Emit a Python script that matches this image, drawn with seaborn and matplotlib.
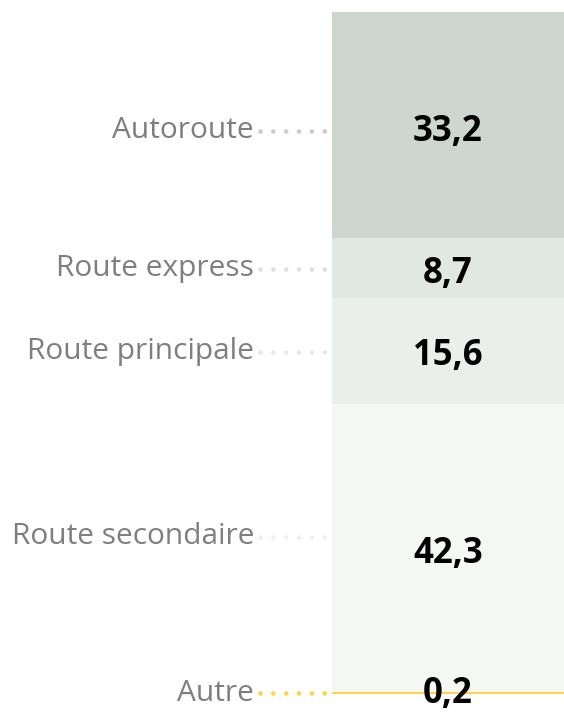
import matplotlib
matplotlib.use("Agg")
import matplotlib.pyplot as plt
import seaborn as sns
import numpy as np

categories = ["Autoroute", "Route express", "Route principale", "Route secondaire", "Autre"]
values = [33.2, 8.7, 15.6, 42.3, 0.2]
value_labels = ["33,2", "8,7", "15,6", "42,3", "0,2"]
colors = ["#cdd6cf", "#e1e8e4", "#eaefec", "#f5f7f5", "#ffd24f"]
dot_colors = ["#c6cfc9", "#dce3df", "#e6ebe8", "#eef1ee", "#ffd24f"]

sns.set_theme(style="white")
plt.rcParams["font.family"] = ["Open Sans", "DejaVu Sans"]

W, H = 564, 714
fig = plt.figure(figsize=(W / 100, H / 100), dpi=100)
ax = fig.add_axes([332 / W, (H - 694) / H, (W - 332) / W, 682 / H])

bottoms = np.concatenate([[0], np.cumsum(values)[:-1]])
for cat, v, b, c in zip(categories, values, bottoms, colors):
    is_last = cat == "Autre"
    sns.barplot(x=["Total"], y=[v], bottom=b, color=c, width=1.0, saturation=1,
                ax=ax, edgecolor=c if is_last else "none",
                linewidth=1.5 if is_last else 0)

ax.set_xlim(-0.5, 0.5)
ax.set_ylim(sum(values), 0)
ax.axis("off")

label_offsets = [0.8, 0.1, 0.1, -1.7, 0.0]
value_offsets = [1.0, 0.8, 0.8, 0.8, 0.1]
trans = ax.get_yaxis_transform()
x_lab = (254 - 332) / (W - 332)
x_dot0 = (260 - 332) / (W - 332)
x_dot1 = (327 - 332) / (W - 332)
for cat, v, b, dc, vl, lo, vo in zip(categories, values, bottoms, dot_colors,
                                     value_labels, label_offsets, value_offsets):
    mid = b + v / 2
    ly = mid + lo
    ax.text(x_lab, ly, cat, transform=trans, ha="right", va="center",
            fontsize=21.5, color="#7f7f7f", clip_on=False)
    ax.plot([x_dot0, x_dot1], [ly, ly], transform=trans, color=dc,
            linewidth=3.4, linestyle=(0, (0.001, 2.72)), dash_capstyle="round",
            clip_on=False)
    ax.text(0, mid + vo, vl, ha="center", va="center", fontsize=25,
            fontweight="bold", color="black", clip_on=False)

fig.savefig("out.png", dpi=100)
